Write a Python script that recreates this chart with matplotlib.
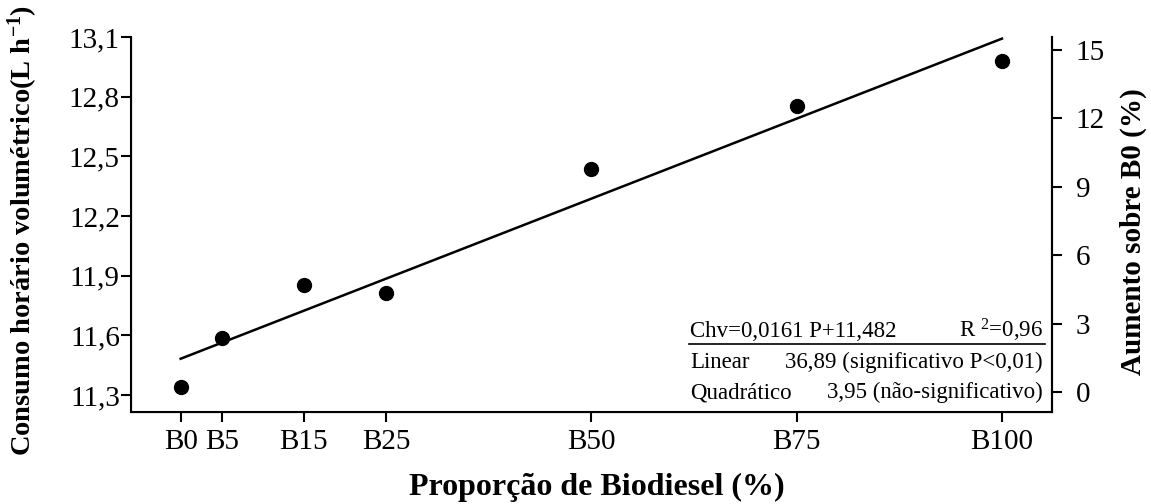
import numpy as np
import matplotlib
matplotlib.use("Agg")
import matplotlib.pyplot as plt

plt.rcParams['font.family'] = ['Liberation Serif', 'DejaVu Serif']
plt.rcParams['mathtext.fontset'] = 'custom'
plt.rcParams['mathtext.rm'] = 'Liberation Serif'
plt.rcParams['mathtext.it'] = 'Liberation Serif:italic'
plt.rcParams['mathtext.bf'] = 'Liberation Serif:bold'

# data
proportion = [0, 5, 15, 25, 50, 75, 100]
tick_labels = ['B0', 'B5', 'B15', 'B25', 'B50', 'B75', 'B100']
consumption = [11.342, 11.586, 11.851, 11.813, 12.434, 12.754, 12.980]
slope = 0.0161
intercept = 11.482
left_ticks = [11.3, 11.6, 11.9, 12.2, 12.5, 12.8, 13.1]
right_ticks = [0, 3, 6, 9, 12, 15]

fig = plt.figure(figsize=(11.51, 5.04), dpi=100)
ax = fig.add_axes([0.1138, 0.1825, 0.8002, 0.744])

x_fit = np.array([0, 100])
ax.plot(x_fit, slope * x_fit + intercept, color='black', lw=1.8)
ax.plot(proportion, consumption, 'o', color='black', ms=10)

ax.set_xlim(-6.05, 106.1)
ax.set_ylim(11.214, 13.1)
ax.set_xticks(proportion)
ax.set_xticklabels(tick_labels)
ax.set_yticks(left_ticks)
ax.set_yticklabels([f'{v:.1f}'.replace('.', ',') for v in left_ticks])

ax.spines['top'].set_visible(False)
for s in ['left', 'bottom', 'right']:
    ax.spines[s].set_linewidth(1.5)
ax.tick_params(axis='both', labelsize=21, width=1.5, length=7, pad=1)
ax.tick_params(axis='x', pad=5)

ax.set_ylabel(r'Consumo horário volumétrico(L h$^{\mathbf{-1}}$)', fontsize=20.5, fontweight='bold')
ax.yaxis.set_label_coords(-0.099, 0.483)
ax.set_xlabel('Proporção de Biodiesel (%)', fontsize=23, fontweight='bold')
ax.xaxis.set_label_coords(0.506, -0.162)

ax2 = ax.twinx()
ax2.set_ylim(-0.88, 15.57)
ax2.set_yticks(right_ticks)
ax2.spines['top'].set_visible(False)
ax2.spines['right'].set_linewidth(1.5)
ax2.tick_params(axis='y', labelsize=21, width=1.5, length=7, pad=10)
ax2.set_ylabel('Aumento sobre B0 (%)', fontsize=21, fontweight='bold')
ax2.yaxis.set_label_coords(1.074, 0.48)

# regression summary
fs = 16.5
ax.text(0.607, 0.2, 'Chv=0,0161 P+11,482', transform=ax.transAxes, fontsize=fs, va='baseline')
ax.text(0.990, 0.2, r'R $^{2}$=0,96', transform=ax.transAxes, fontsize=fs, va='baseline', ha='right')
ax.plot([0.606, 0.992], [0.182, 0.182], transform=ax.transAxes, color='black', lw=1.2, clip_on=False)
ax.text(0.607, 0.117, 'Linear', transform=ax.transAxes, fontsize=fs, va='baseline')
ax.text(0.990, 0.117, '36,89 (significativo P<0,01)', transform=ax.transAxes, fontsize=fs,
        va='baseline', ha='right')
ax.text(0.607, 0.037, 'Quadrático', transform=ax.transAxes, fontsize=fs, va='baseline')
ax.text(0.990, 0.037, '3,95 (não-significativo)', transform=ax.transAxes, fontsize=fs,
        va='baseline', ha='right')

fig.savefig('out.png', dpi=100)
